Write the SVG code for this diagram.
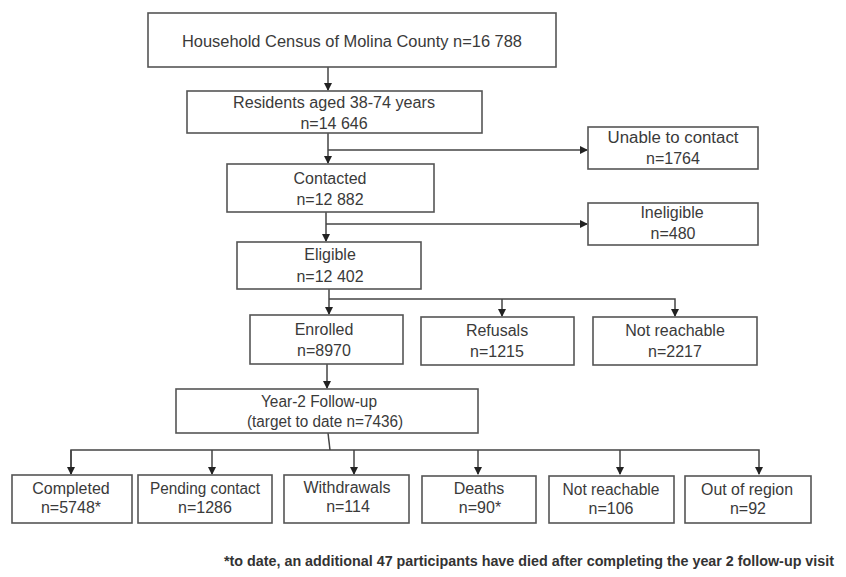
<svg xmlns="http://www.w3.org/2000/svg" width="846" height="577" viewBox="0 0 846 577">
<style>
.box{fill:#fff;stroke:#555;stroke-width:1.6}
.t{font-family:"Liberation Sans",Arial,sans-serif;font-size:16px;fill:#3a3a3a;text-anchor:middle}
.fn{font-family:"Liberation Sans",Arial,sans-serif;font-size:14px;fill:#333;font-weight:bold}
.ln{fill:none;stroke:#444;stroke-width:1.5}
</style>
<defs>
<marker id="ah" markerWidth="8" markerHeight="8" refX="7" refY="4" orient="auto" markerUnits="userSpaceOnUse">
<path d="M0,0 L8,4 L0,8 Z" fill="#222"/>
</marker>
</defs>
<rect width="846" height="577" fill="#fff"/>
<g id="connectors">
<path class="ln" d="M328,67 V90" marker-end="url(#ah)"/>
<path class="ln" d="M328,133 V163" marker-end="url(#ah)"/>
<path class="ln" d="M328,150 H587" marker-end="url(#ah)"/>
<path class="ln" d="M326,212 V241" marker-end="url(#ah)"/>
<path class="ln" d="M326,224 H587" marker-end="url(#ah)"/>
<path class="ln" d="M329,289 V314" marker-end="url(#ah)"/>
<path class="ln" d="M329,299 H675 V316" marker-end="url(#ah)"/>
<path class="ln" d="M502,299 V316" marker-end="url(#ah)"/>
<path class="ln" d="M327,364 V388" marker-end="url(#ah)"/>
<path class="ln" d="M328,433 L330,450"/>
<path class="ln" d="M71,474 V450 H759 V474" marker-end="url(#ah)"/>
<path class="ln" d="M71,450 V474" marker-end="url(#ah)"/>
<path class="ln" d="M212,450 V474" marker-end="url(#ah)"/>
<path class="ln" d="M354,450 V474" marker-end="url(#ah)"/>
<path class="ln" d="M478,450 V474" marker-end="url(#ah)"/>
<path class="ln" d="M620,450 V474" marker-end="url(#ah)"/>
</g>
<g id="census"><rect class="box" x="148" y="13" width="408" height="54"/><text class="t" x="352" y="47" textLength="340" lengthAdjust="spacingAndGlyphs">Household Census of Molina County n=16 788</text></g>
<g id="residents"><rect class="box" x="187" y="91" width="295" height="42"/><text class="t" x="334" y="108" textLength="202" lengthAdjust="spacingAndGlyphs">Residents aged 38-74 years</text><text class="t" x="334" y="129">n=14 646</text></g>
<g id="unable"><rect class="box" x="588" y="127" width="170" height="42"/><text class="t" x="673" y="143" textLength="131" lengthAdjust="spacingAndGlyphs">Unable to contact</text><text class="t" x="673" y="164">n=1764</text></g>
<g id="contacted"><rect class="box" x="227" y="164" width="207" height="48"/><text class="t" x="330" y="184">Contacted</text><text class="t" x="330" y="205">n=12 882</text></g>
<g id="ineligible"><rect class="box" x="588" y="203" width="170" height="42"/><text class="t" x="672" y="218">Ineligible</text><text class="t" x="673" y="239">n=480</text></g>
<g id="eligible"><rect class="box" x="237" y="242" width="184" height="47"/><text class="t" x="330" y="260">Eligible</text><text class="t" x="330" y="282">n=12 402</text></g>
<g id="enrolled"><rect class="box" x="250" y="315" width="153" height="49"/><text class="t" x="324" y="335">Enrolled</text><text class="t" x="324" y="356">n=8970</text></g>
<g id="refusals"><rect class="box" x="421" y="317" width="153" height="48"/><text class="t" x="497" y="336">Refusals</text><text class="t" x="497" y="357">n=1215</text></g>
<g id="notreach1"><rect class="box" x="593" y="317" width="164" height="48"/><text class="t" x="675" y="336">Not reachable</text><text class="t" x="675" y="357">n=2217</text></g>
<g id="year2"><rect class="box" x="176" y="389" width="302" height="44"/><text class="t" x="319" y="407" textLength="116" lengthAdjust="spacingAndGlyphs">Year-2 Follow-up</text><text class="t" x="325" y="427" textLength="156" lengthAdjust="spacingAndGlyphs">(target to date n=7436)</text></g>
<g id="completed"><rect class="box" x="12" y="475" width="120" height="48"/><text class="t" x="71" y="494">Completed</text><text class="t" x="71" y="513">n=5748*</text></g>
<g id="pending"><rect class="box" x="138" y="475" width="134" height="48"/><text class="t" x="205" y="494" textLength="110" lengthAdjust="spacingAndGlyphs">Pending contact</text><text class="t" x="205" y="513">n=1286</text></g>
<g id="withdrawals"><rect class="box" x="284" y="475" width="125" height="48"/><text class="t" x="347" y="493">Withdrawals</text><text class="t" x="348" y="512">n=114</text></g>
<g id="deaths"><rect class="box" x="422" y="476" width="114" height="47"/><text class="t" x="479" y="494">Deaths</text><text class="t" x="480" y="513">n=90*</text></g>
<g id="notreach2"><rect class="box" x="549" y="476" width="125" height="47"/><text class="t" x="611" y="495" textLength="97" lengthAdjust="spacingAndGlyphs">Not reachable</text><text class="t" x="611" y="514">n=106</text></g>
<g id="outofregion"><rect class="box" x="685" y="476" width="126" height="47"/><text class="t" x="747" y="495" textLength="92" lengthAdjust="spacingAndGlyphs">Out of region</text><text class="t" x="748" y="514">n=92</text></g>
<g id="footnote"><text class="fn" x="224" y="566" textLength="610" lengthAdjust="spacingAndGlyphs">*to date, an additional 47 participants have died after completing the year 2 follow-up visit</text></g>
</svg>
